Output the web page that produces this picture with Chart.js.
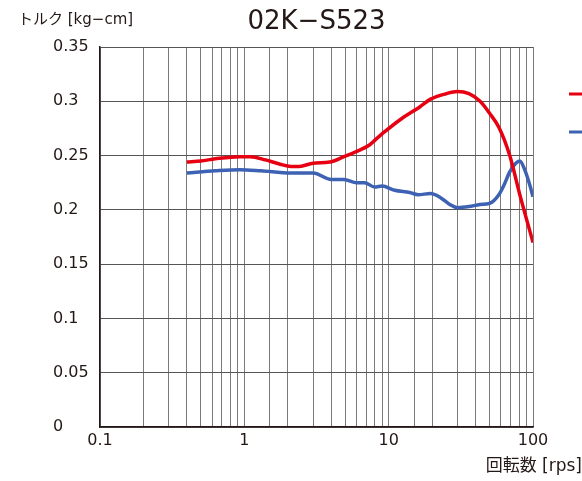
<!DOCTYPE html>
<html>
<head>
<meta charset="utf-8">
<script src="https://cdn.jsdelivr.net/npm/chart.js@4/dist/chart.umd.min.js"></script>
<style>
  html, body { margin: 0; padding: 0; background: #fff; overflow: hidden; }
  canvas { display: block; }
</style>
</head>
<body>
<canvas id="torque" width="582" height="481"></canvas>
<script>
const title     = '02K−S523';
const yTitle    = 'トルク [kg−cm]';
const xTitle    = '回転数 [rps]';
const seriesNames = ['A', 'B'];

// rps / kg-cm
const redRps    = [0.4, 0.5, 0.63, 0.93, 1.1, 1.4, 1.77, 2.1, 2.4, 3.0, 3.9, 4.9, 6.3, 7.4, 8.0, 9.4, 12, 16.5, 19.5, 25, 30, 36, 43, 50, 58, 69, 81, 100];
const redTorque = [0.244, 0.245, 0.247, 0.249, 0.249, 0.246, 0.242, 0.240, 0.240, 0.243, 0.244, 0.249, 0.255, 0.260, 0.264, 0.272, 0.283, 0.295, 0.302, 0.307, 0.309, 0.307, 0.300, 0.289, 0.276, 0.250, 0.214, 0.170];

const blueRps    = [0.4, 0.63, 0.93, 1.3, 2.1, 3.0, 4.0, 4.9, 6.0, 6.8, 8.0, 9.0, 11, 14, 16, 19.5, 23, 26.5, 30, 36, 43, 50, 58, 63, 69, 76, 81, 87, 95, 100];
const blueTorque = [0.234, 0.236, 0.237, 0.236, 0.234, 0.234, 0.228, 0.228, 0.225, 0.225, 0.221, 0.222, 0.218, 0.216, 0.214, 0.215, 0.211, 0.205, 0.202, 0.203, 0.205, 0.206, 0.214, 0.223, 0.235, 0.243, 0.245, 0.238, 0.223, 0.212];

const colors = ['#e60012', '#3d62b3'];
const font = '"DejaVu Sans", "Noto Sans CJK JP", sans-serif';

function pts(xs, ys) {
  return xs.map((x, i) => ({ x: x, y: ys[i] }));
}

const textPlugin = {
  id: 'texts',
  afterDraw(chart) {
    const c = chart.ctx;
    const a = chart.chartArea;
    c.save();
    c.fillStyle = '#231815';
    c.textBaseline = 'middle';

    c.font = '26px ' + font;
    c.textAlign = 'center';
    c.fillText(title, (a.left + a.right) / 2, 22);

    c.font = '15px ' + font;
    c.textAlign = 'left';
    c.fillText(yTitle, 18, 20);

    c.font = '17px ' + font;
    c.textAlign = 'right';
    c.fillText(xTitle, chart.width, 467);

    // legend, mostly off the right edge
    chart.data.datasets.forEach((ds, i) => {
      const y = 94 + i * 38;
      const x = a.right + 36;
      c.strokeStyle = ds.borderColor;
      c.lineWidth = 3;
      c.beginPath();
      c.moveTo(x, y);
      c.lineTo(x + 16, y);
      c.stroke();
      c.font = '14px ' + font;
      c.textAlign = 'left';
      c.fillText(ds.label, x + 22, y);
    });
    c.restore();
  }
};

new Chart(document.getElementById('torque'), {
  type: 'line',
  data: {
    datasets: [
      { label: seriesNames[0], data: pts(redRps, redTorque), borderColor: colors[0] },
      { label: seriesNames[1], data: pts(blueRps, blueTorque), borderColor: colors[1] }
    ]
  },
  options: {
    responsive: false,
    devicePixelRatio: 1,
    animation: false,
    layout: { padding: { left: 53, top: 47, right: 49, bottom: 0 } },
    elements: {
      line: { borderWidth: 3.5, tension: 0.4, cubicInterpolationMode: 'monotone', fill: false },
      point: { radius: 0 }
    },
    plugins: {
      legend: { display: false },
      title: { display: false },
      tooltip: { enabled: false }
    },
    scales: {
      x: {
        type: 'logarithmic',
        min: 0.1,
        max: 100,
        afterFit: s => { s.height = 54; },
        grid: { color: '#7a7a7a', lineWidth: 1, drawTicks: false },
        border: { color: '#231815', width: 1.5 },
        ticks: {
          autoSkip: false,
          maxRotation: 0,
          padding: 4,
          color: '#231815',
          font: { family: font, size: 16 },
          callback: v => {
            const l = Math.log10(v);
            return Math.abs(l - Math.round(l)) < 1e-6 ? String(+v.toFixed(1)) : '';
          }
        }
      },
      y: {
        min: 0,
        max: 0.35,
        afterFit: s => { s.width = 47; },
        grid: { color: '#555', lineWidth: 1, drawTicks: false },
        border: { color: '#231815', width: 1.5 },
        ticks: {
          stepSize: 0.05,
          crossAlign: 'far',
          color: '#231815',
          font: { family: font, size: 16 },
          callback: v => String(+v.toFixed(2))
        }
      }
    }
  },
  plugins: [textPlugin]
});
</script>
</body>
</html>
